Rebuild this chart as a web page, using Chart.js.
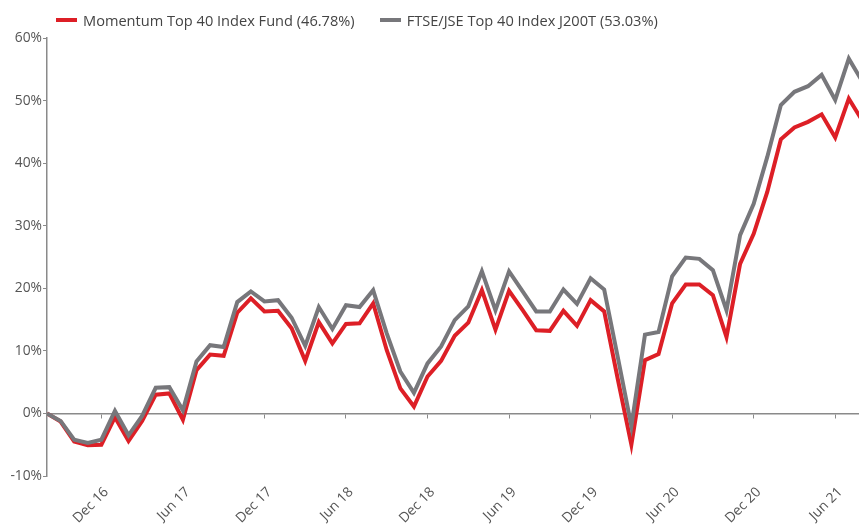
<!DOCTYPE html>
<html>
<head>
<meta charset="utf-8">
<script src="https://cdn.jsdelivr.net/npm/chart.js@4/dist/chart.umd.min.js"></script>
<style>
  html, body { margin: 0; padding: 0; background: #fff; }
  #wrap { position: relative; width: 859px; height: 524px; }
  #legend { position: absolute; top: 10px; left: 56px; display: flex; align-items: center;
    font-family: "Open Sans", sans-serif; font-size: 14.6px; color: #444; white-space: nowrap; }
  .item { display: flex; align-items: center; margin-right: 25px; }
  .bar { width: 21px; height: 4px; margin-right: 6px; }
</style>
</head>
<body>
<div id="wrap">
  <canvas id="chart" width="859" height="524"></canvas>
  <div id="legend"></div>
</div>
<script>
const months = [
  'Aug 16','Sep 16','Oct 16','Nov 16','Dec 16',
  'Jan 17','Feb 17','Mar 17','Apr 17','May 17','Jun 17','Jul 17','Aug 17','Sep 17','Oct 17','Nov 17','Dec 17',
  'Jan 18','Feb 18','Mar 18','Apr 18','May 18','Jun 18','Jul 18','Aug 18','Sep 18','Oct 18','Nov 18','Dec 18',
  'Jan 19','Feb 19','Mar 19','Apr 19','May 19','Jun 19','Jul 19','Aug 19','Sep 19','Oct 19','Nov 19','Dec 19',
  'Jan 20','Feb 20','Mar 20','Apr 20','May 20','Jun 20','Jul 20','Aug 20','Sep 20','Oct 20','Nov 20','Dec 20',
  'Jan 21','Feb 21','Mar 21','Apr 21','May 21','Jun 21','Jul 21','Aug 21'
];

const momentum = [
  0, -1.3, -4.5, -5.1, -5.0,
  -0.6, -4.4, -1.2, 3.0, 3.2, -1.0, 6.9, 9.4, 9.2, 16.1, 18.4, 16.3,
  16.4, 13.6, 8.4, 14.6, 11.2, 14.3, 14.4, 17.6, 10.1, 4.0, 1.1, 5.9,
  8.4, 12.4, 14.5, 19.7, 13.4, 19.6, 16.5, 13.3, 13.2, 16.4, 14.0, 18.1,
  16.3, 5.5, -5.0, 8.5, 9.5, 17.6, 20.6, 20.6, 18.9, 12.2, 23.9, 28.7,
  35.4, 43.8, 45.7, 46.6, 47.8, 44.1, 50.3, 46.78
];

const ftse = [
  0, -1.2, -4.2, -4.7, -4.2,
  0.4, -3.5, -0.4, 4.1, 4.2, 0.5, 8.3, 10.9, 10.6, 17.8, 19.5, 17.9,
  18.1, 15.3, 10.8, 17.0, 13.5, 17.3, 17.0, 19.7, 12.8, 6.7, 3.3, 8.0,
  10.7, 14.9, 17.1, 22.7, 16.5, 22.7, 19.5, 16.3, 16.3, 19.8, 17.5, 21.6,
  19.8, 9.0, -2.0, 12.6, 13.0, 21.9, 24.9, 24.7, 22.9, 16.5, 28.5, 33.5,
  41.0, 49.3, 51.4, 52.3, 54.1, 50.1, 56.7, 53.03
];

const tickMonths = ['Dec 16','Jun 17','Dec 17','Jun 18','Dec 18','Jun 19','Dec 19','Jun 20','Dec 20','Jun 21'];
const yTicks = [-10, 0, 10, 20, 30, 40, 50, 60];

const seriesNames = ['Momentum Top 40 Index Fund (46.78%)', 'FTSE/JSE Top 40 Index J200T (53.03%)'];
const seriesColors = ['#dd1f26', '#77777b'];

const tickIdx = tickMonths.map(m => months.indexOf(m));
const toPoints = arr => arr.map((v, i) => ({ x: i, y: v }));
const font = { family: '"Open Sans", sans-serif', size: 13.8 };
const textColor = '#555';
const axisColor = '#8a8a8a';

// legend drawn as html
const legendEl = document.getElementById('legend');
seriesNames.forEach((name, i) => {
  const item = document.createElement('div');
  item.className = 'item';
  const bar = document.createElement('span');
  bar.className = 'bar';
  bar.style.background = seriesColors[i];
  const txt = document.createElement('span');
  txt.textContent = name;
  item.appendChild(bar);
  item.appendChild(txt);
  legendEl.appendChild(item);
});

const setTicks = axis => { axis.ticks = tickIdx.map(v => ({ value: v })); };

new Chart(document.getElementById('chart'), {
  type: 'line',
  data: {
    datasets: [
      { label: seriesNames[0], data: toPoints(momentum), borderColor: seriesColors[0], order: 1 },
      { label: seriesNames[1], data: toPoints(ftse), borderColor: seriesColors[1], order: 0 }
    ]
  },
  options: {
    responsive: false,
    animation: false,
    layout: { padding: { top: 38, left: 0, right: 0, bottom: 0 } },
    elements: {
      line: { borderWidth: 4, tension: 0, borderJoinStyle: 'miter', fill: false },
      point: { radius: 0 }
    },
    plugins: { legend: { display: false }, tooltip: { enabled: false } },
    scales: {
      x: {
        type: 'linear',
        min: 0,
        max: 59.75,
        afterBuildTicks: setTicks,
        afterFit: a => { a.height = 48; },
        grid: { display: false },
        border: { display: false },
        ticks: {
          color: textColor,
          font: font,
          maxRotation: 45,
          minRotation: 45,
          padding: 0,
          labelOffset: 5,
          autoSkip: false,
          callback: v => months[v]
        }
      },
      x2: {
        type: 'linear',
        axis: 'x',
        position: { y: 0 },
        min: 0,
        max: 59.75,
        afterBuildTicks: setTicks,
        afterFit: a => { a.height = 0; },
        grid: { drawOnChartArea: false, drawTicks: true, tickLength: 4, color: axisColor },
        border: { display: true, color: axisColor, width: 1.5 },
        ticks: { display: false }
      },
      y: {
        min: -10,
        max: 60,
        afterBuildTicks: a => { a.ticks = yTicks.map(v => ({ value: v })); },
        afterFit: a => { a.width = 47; },
        grid: { drawOnChartArea: false, drawTicks: true, tickLength: 4, color: axisColor },
        border: { display: true, color: axisColor, width: 1.5 },
        ticks: {
          color: textColor,
          font: font,
          padding: 1,
          callback: v => v + '%'
        }
      }
    }
  }
});
</script>
</body>
</html>
